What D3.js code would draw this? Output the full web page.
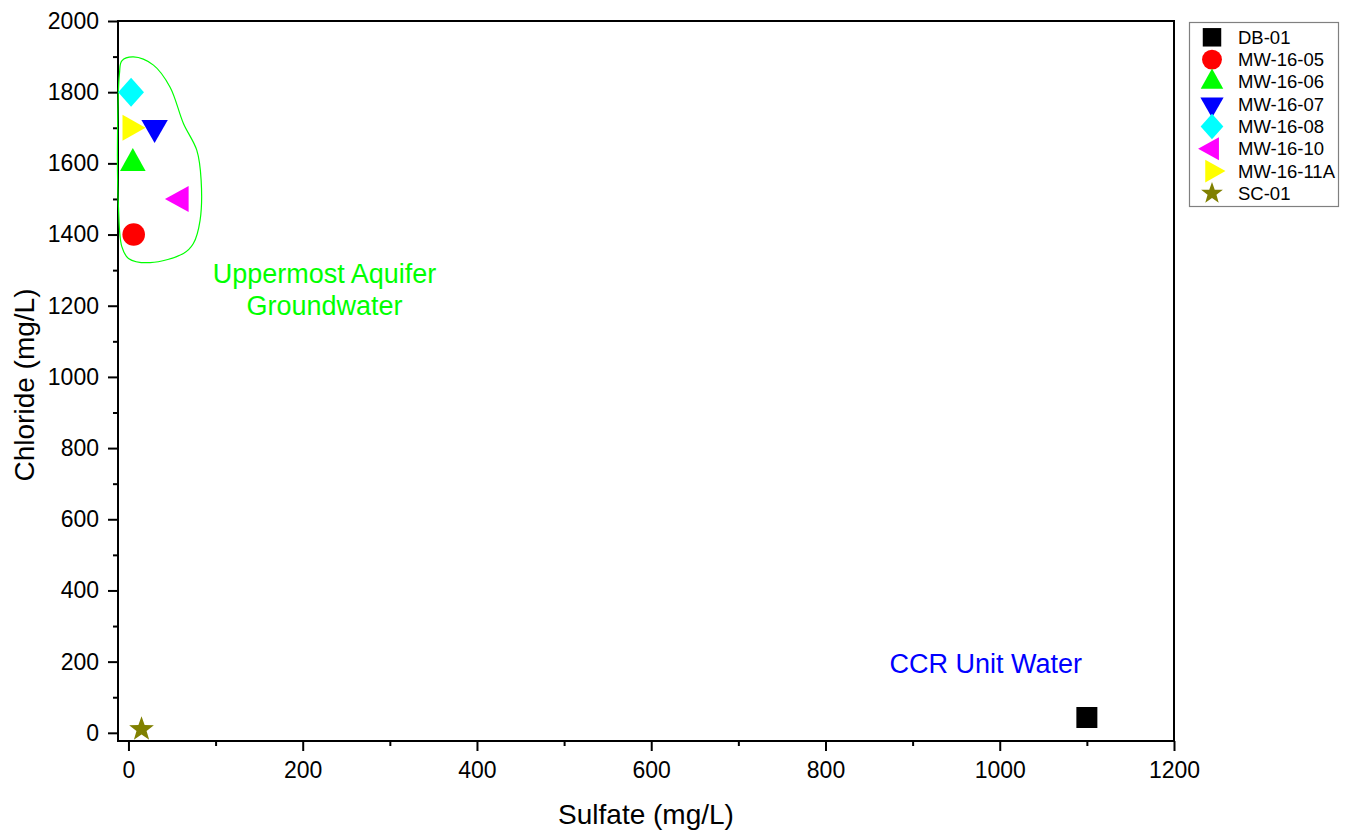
<!DOCTYPE html>
<html>
<head>
<meta charset="utf-8">
<script src="https://cdn.jsdelivr.net/npm/d3@7"></script>
<style>
  body { margin: 0; background: #fff; }
  svg { font-family: "Liberation Sans", Arial, sans-serif; }
</style>
</head>
<body>
<svg></svg>
<script>
// sample names, symbols and colours (legend order)
const samples = ['DB-01','MW-16-05','MW-16-06','MW-16-07','MW-16-08','MW-16-10','MW-16-11A','SC-01'];
const shapes  = ['square','circle','triUp','triDown','diamond','triLeft','triRight','star'];
const colors  = ['#000000','#ff0000','#00ff00','#0000ff','#00ffff','#ff00ff','#ffff00','#808000'];
// sulfate and chloride, mg/L
const sulfate  = [1100, 6, 5, 30, 3, 60, 2, 15];
const chloride = [43, 1400, 1600, 1700, 1800, 1500, 1700, 10];

const xTicks = [0, 200, 400, 600, 800, 1000, 1200];
const yTicks = [0, 200, 400, 600, 800, 1000, 1200, 1400, 1600, 1800, 2000];

// hand drawn outline round the groundwater wells (sulfate, chloride)
const outlineX = [5.7, 28.7, 47.8, 63.1, 78.4, 83.4, 82.2, 74.5, 63.1, 25, 0, -7.6, -11.5, -12.6, -10.3, -7.6];
const outlineY = [1899, 1876, 1814, 1712, 1637, 1553, 1440, 1375, 1347, 1321, 1333, 1366, 1478, 1665, 1853, 1888];

const notes = [
  { lines: ['Uppermost Aquifer','Groundwater'], x: 225, y: 1264, color: '#00ff00' },
  { lines: ['CCR Unit Water'], x: 984, y: 169, color: '#0000ff' }
];

function draw() {
  const svgWidth = 1353, svgHeight = 834;
  const svg = d3.select('svg')
    .attr('width', svgWidth)
    .attr('height', svgHeight);

  const margin = { top: 21, left: 118 };
  const innerWidth = 1056, innerHeight = 720;

  const xScale = d3.scaleLinear().domain([-12, 1200]).range([0, innerWidth]);
  const yScale = d3.scaleLinear().domain([-23, 2000]).range([innerHeight, 0]);

  const g = svg.append('g')
    .attr('transform', `translate(${margin.left},${margin.top})`);

  // minor ticks
  const xMinor = g.append('g')
    .attr('transform', `translate(0,${innerHeight})`)
    .call(d3.axisBottom(xScale).tickValues(d3.range(100, 1200, 200)).tickSize(5).tickFormat(''));
  const yMinor = g.append('g')
    .call(d3.axisLeft(yScale).tickValues(d3.range(100, 2000, 200)).tickSize(5).tickFormat(''));

  const xAxisG = g.append('g')
    .attr('transform', `translate(0,${innerHeight})`)
    .call(d3.axisBottom(xScale).tickValues(xTicks).tickSize(10).tickPadding(11).tickFormat(d3.format('d')));
  const yAxisG = g.append('g')
    .call(d3.axisLeft(yScale).tickValues(yTicks).tickSize(10).tickPadding(9).tickFormat(d3.format('d')));

  [xMinor, yMinor, xAxisG, yAxisG].forEach(a => {
    a.select('.domain').remove();
    a.selectAll('.tick line').attr('stroke', '#000').attr('stroke-width', 2);
    a.selectAll('.tick text')
      .attr('fill', '#000')
      .attr('font-size', 23)
      .attr('font-family', '"Liberation Sans", Arial, sans-serif');
  });

  // frame
  g.append('rect')
    .attr('width', innerWidth)
    .attr('height', innerHeight)
    .attr('fill', 'none')
    .attr('stroke', '#000')
    .attr('stroke-width', 2);

  // axis titles
  svg.append('text')
    .attr('x', 646).attr('y', 824)
    .attr('text-anchor', 'middle')
    .attr('font-size', 28)
    .text('Sulfate (mg/L)');
  svg.append('text')
    .attr('transform', 'translate(34,385) rotate(-90)')
    .attr('text-anchor', 'middle')
    .attr('font-size', 28)
    .text('Chloride (mg/L)');

  // outline
  const outline = outlineX.map((d, i) => [d, outlineY[i]]);
  g.append('path')
    .attr('d', d3.line()
      .x(d => xScale(d[0]))
      .y(d => yScale(d[1]))
      .curve(d3.curveCatmullRomClosed)(outline))
    .attr('fill', 'none')
    .attr('stroke', '#00ff00')
    .attr('stroke-width', 1.2);

  // notes
  notes.forEach(n => {
    const t = g.append('text')
      .attr('x', xScale(n.x)).attr('y', yScale(n.y))
      .attr('text-anchor', 'middle')
      .attr('font-size', 27)
      .attr('fill', n.color);
    n.lines.forEach((line, i) => {
      t.append('tspan')
        .attr('x', xScale(n.x))
        .attr('dy', i ? 32 : 0)
        .text(line);
    });
  });

  // points
  const data = samples.map((s, i) => ({
    name: s, shape: shapes[i], color: colors[i], x: sulfate[i], y: chloride[i]
  }));

  g.selectAll('.pt').data(data)
    .enter().append('path')
      .attr('class', 'pt')
      .attr('transform', d => `translate(${xScale(d.x)},${yScale(d.y)})`)
      .attr('d', d => symbolPath(d.shape, 1))
      .attr('fill', d => d.color);

  // legend
  const legend = svg.append('g').attr('transform', 'translate(1189,22)');
  legend.append('rect')
    .attr('x', 0.5).attr('y', 0.5)
    .attr('width', 149).attr('height', 184)
    .attr('fill', '#fff')
    .attr('stroke', '#808080')
    .attr('stroke-width', 1.2);
  const item = legend.selectAll('.item').data(data)
    .enter().append('g')
      .attr('class', 'item')
      .attr('transform', (d, i) => `translate(0,${15.3 + i * 22.3})`);
  item.append('path')
    .attr('transform', 'translate(23,0)')
    .attr('d', d => symbolPath(d.shape, 0.88))
    .attr('fill', d => d.color);
  item.append('text')
    .attr('x', 49)
    .attr('y', 6.5)
    .attr('font-size', 18.5)
    .text(d => d.name);
}

// marker outlines centred on the point
function symbolPath(shape, k) {
  const p = d3.path();
  const tri = (pts) => {
    p.moveTo(pts[0][0] * k, pts[0][1] * k);
    pts.slice(1).forEach(q => p.lineTo(q[0] * k, q[1] * k));
    p.closePath();
  };
  switch (shape) {
    case 'square':
      p.rect(-10.5 * k, -10.5 * k, 21 * k, 21 * k);
      break;
    case 'circle':
      p.arc(0, 0, 11.3 * k, 0, 2 * Math.PI);
      break;
    case 'triUp':
      tri([[0, -15.3], [12.8, 7.7], [-12.8, 7.7]]);
      break;
    case 'triDown':
      tri([[0, 15.3], [13.2, -7.7], [-13.2, -7.7]]);
      break;
    case 'triLeft':
      tri([[-15.8, 0], [7.9, -13], [7.9, 13]]);
      break;
    case 'triRight':
      tri([[15.3, 0], [-7.7, -13], [-7.7, 13]]);
      break;
    case 'diamond':
      tri([[0, -14.5], [12.9, 0], [0, 14.5], [-12.9, 0]]);
      break;
    default: {
      const pts = [];
      for (let i = 0; i < 10; i++) {
        const r = i % 2 ? 5.3 : 13;
        const a = -Math.PI / 2 + i * Math.PI / 5;
        pts.push([r * Math.cos(a), r * Math.sin(a)]);
      }
      tri(pts);
    }
  }
  return p.toString();
}

draw();
</script>
</body>
</html>
